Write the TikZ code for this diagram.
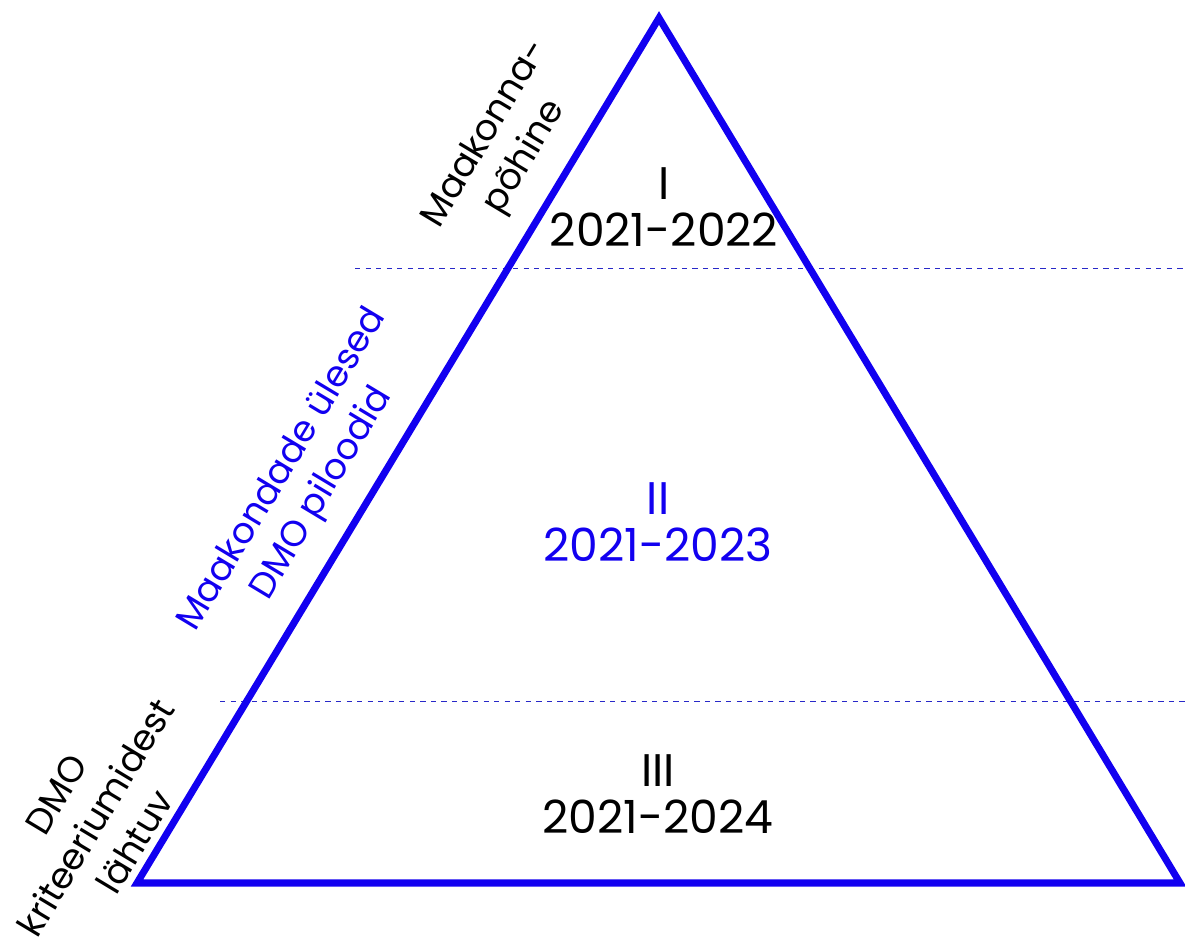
\documentclass[tikz,border=0pt]{standalone}
\usepackage{fontspec}
\setmainfont{Poppins}
\usetikzlibrary{calc,positioning}
\definecolor{pyrblue}{RGB}{18,0,240}
\definecolor{dashblue}{RGB}{40,40,200}

\begin{document}
\begin{tikzpicture}[x=0.02cm,y=-0.02cm,
    side/.style={line width=4pt, pyrblue, line join=miter},
    level/.style={dashed, thin, dashblue},
    tier/.style={align=center, font=\fontsize{26}{27}\selectfont, inner sep=0pt},
    slant/.style={align=center, rotate=59, font=\fontsize{20.5}{26}\selectfont, inner sep=0pt}]

  \useasboundingbox (0,0) rectangle (1185,942);

  \path (659,18) coordinate(apex)
  (137,883) coordinate(bl)
  (1180,883) coordinate(br)
  (355,268) coordinate(up1) (1185,268) coordinate(up2)
  (220,701) coordinate(lo1) (1185,701) coordinate(lo2);

  \draw[level] (up1) -- (up2);
  \draw[level] (lo1) -- (lo2);
  \draw[side] (apex) -- (br) -- (bl) -- cycle;

  \path (664,207) node(t1) [tier] {I\\2021-2022}
  (658,522) node(t2) [tier,pyrblue] {II\\2021-2023}
  (658,794) node(t3) [tier] {III\\2021-2024};

  \path (506,146) node(l1) [slant] {Maakonna-\\põhine}
  (303,482) node(l2) [slant,pyrblue] {Maakondade ülesed\\DMO piloodid}
  (96,818) node(l3) [slant] {DMO\\kriteeriumidest\\lähtuv};

\end{tikzpicture}
\end{document}
